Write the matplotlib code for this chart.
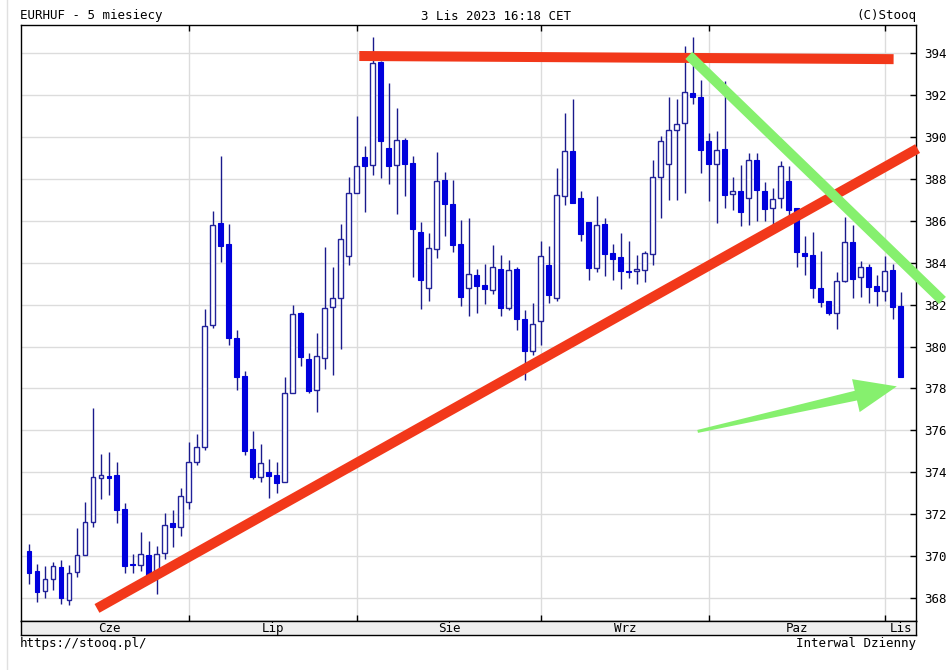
import matplotlib.pyplot as plt
from matplotlib.patches import Polygon

# daily candles, index 0 = 5 Jun 2023, index 109 = 3 Nov 2023
opens = [370.24, 369.30, 368.35, 368.90, 369.46, 367.91, 369.22, 370.04, 371.63, 373.73,
         373.81, 373.87, 372.23, 369.60, 369.57, 370.05, 369.15, 370.16, 371.57, 371.37,
         372.57, 374.50, 375.20, 381.05, 385.90, 384.90, 380.43, 378.58, 375.10, 373.79,
         374.03, 373.87, 373.55, 377.79, 381.58, 379.40, 377.94, 379.45, 381.90, 382.30,
         384.34, 387.35, 389.06, 388.66, 393.60, 389.48, 388.66, 389.87, 388.74, 385.47,
         382.81, 384.67, 387.94, 386.82, 384.91, 382.81, 383.42, 382.94, 382.70, 383.71,
         381.82, 383.71, 381.31, 379.77, 381.24, 383.90, 382.33, 387.19, 389.35, 387.11,
         385.94, 383.74, 385.83, 384.46, 384.26, 383.63, 383.62, 383.66, 384.43, 388.10,
         388.71, 390.32, 390.65, 392.12, 391.92, 389.83, 388.71, 389.42, 387.26, 387.43,
         387.10, 388.90, 387.43, 386.61, 387.10, 387.88, 386.60, 384.45, 384.35, 382.81,
         382.17, 381.61, 383.13, 384.99, 383.31, 383.82, 382.89, 382.65, 383.66, 381.93]
highs = [370.59, 369.60, 369.52, 369.72, 369.80, 369.57, 371.32, 372.57, 377.05, 374.89,
         374.97, 374.47, 372.54, 370.12, 371.16, 370.70, 370.49, 372.04, 372.20, 373.25,
         375.44, 375.83, 381.77, 386.45, 389.10, 385.84, 380.79, 378.82, 375.97, 375.37,
         374.63, 374.47, 378.53, 382.00, 381.66, 379.68, 380.66, 384.77, 383.82, 385.87,
         388.10, 390.99, 389.59, 394.77, 393.65, 392.56, 391.40, 389.95, 389.11, 385.94,
         385.43, 389.27, 388.31, 387.94, 386.02, 386.12, 383.71, 383.94, 384.87, 384.38,
         384.14, 383.82, 381.74, 382.06, 385.03, 384.79, 388.52, 391.15, 391.84, 387.43,
         385.94, 387.19, 386.12, 384.90, 385.43, 385.06, 384.35, 384.54, 388.90, 390.07,
         391.92, 391.84, 394.37, 394.78, 392.74, 390.21, 390.29, 392.69, 388.08, 388.69,
         389.23, 389.23, 387.87, 387.56, 388.85, 388.60, 386.63, 385.27, 385.46, 384.58,
         382.17, 383.58, 386.18, 385.79, 384.10, 383.95, 383.42, 384.30, 383.95, 382.59]
lows = [368.68, 367.80, 368.00, 368.36, 367.69, 367.66, 368.99, 370.04, 371.40, 372.70,
        372.93, 371.60, 369.18, 369.18, 369.29, 368.90, 368.20, 369.88, 370.43, 370.98,
        372.23, 374.37, 375.08, 380.90, 384.05, 380.08, 377.91, 374.82, 373.68, 373.52,
        372.78, 373.01, 373.52, 377.79, 379.05, 377.79, 376.87, 378.94, 378.62, 379.90,
        383.90, 387.35, 386.44, 388.20, 388.03, 387.75, 386.31, 387.19, 383.34, 381.79,
        382.17, 384.22, 385.27, 384.50, 381.95, 381.45, 381.58, 382.01, 382.49, 381.45,
        381.74, 380.81, 378.40, 379.60, 380.06, 382.06, 382.17, 386.74, 386.87, 385.06,
        383.18, 383.55, 383.37, 383.18, 382.75, 383.26, 382.97, 383.10, 383.90, 386.15,
        387.02, 387.02, 387.35, 391.60, 388.29, 386.97, 385.91, 386.61, 386.53, 385.75,
        385.79, 385.99, 385.99, 385.79, 386.60, 386.23, 383.82, 383.42, 382.30, 381.90,
        381.53, 380.86, 383.10, 382.33, 382.38, 382.06, 381.95, 382.17, 381.31, 378.54]
closes = [369.21, 368.27, 368.90, 369.52, 368.02, 369.18, 370.04, 371.63, 373.75, 373.86,
          373.73, 372.18, 369.54, 369.55, 370.12, 369.10, 370.08, 371.49, 371.37, 372.87,
          374.50, 375.20, 380.99, 385.80, 384.80, 380.39, 378.53, 375.02, 373.76, 374.42,
          373.84, 373.49, 377.79, 381.55, 379.48, 377.87, 379.55, 381.82, 382.30, 385.15,
          387.35, 388.62, 388.63, 393.55, 389.80, 388.63, 389.87, 388.71, 385.62, 383.18,
          384.71, 387.91, 386.79, 384.87, 382.35, 383.47, 382.91, 382.75, 383.78, 381.85,
          383.66, 381.31, 379.77, 381.07, 384.34, 382.46, 387.22, 389.35, 386.87, 385.39,
          383.74, 385.78, 384.43, 384.19, 383.63, 383.55, 383.71, 384.46, 388.10, 389.83,
          390.32, 390.62, 392.17, 391.92, 389.39, 388.71, 389.39, 387.22, 387.43, 386.40,
          388.90, 387.48, 386.56, 387.05, 388.60, 386.50, 384.50, 384.30, 382.81, 382.11,
          381.61, 383.13, 384.99, 383.23, 383.82, 382.83, 382.65, 383.63, 381.90, 378.54]

months = ["Cze", "Lip", "Sie", "Wrz", "Paz", "Lis"]
month_starts = [0, 20, 41, 64, 85, 107]
last_index = 111
y_ticks = list(range(368, 395, 2))

# hand-drawn trend lines (candle index, price)
resistance = ([41.3, 108.1], [393.87, 393.72])
support = ([8.5, 111.1], [367.50, 389.45])
down_trend = ([82.5, 114.2], [393.9, 382.2])
arrow_tail = (83.6, 375.95)
arrow_tip = (108.5, 378.1)

W, H = 949, 670
MONO = "DejaVu Sans Mono"
BLUE = "#0000dd"
WICK = "#1a1a8c"

fig = plt.figure(figsize=(W / 100, H / 100), dpi=100)
ax = fig.add_axes([21 / W, 49 / H, 895 / W, 596 / H])
band = fig.add_axes([21 / W, 35 / H, 895 / W, 14 / H])

x0, x1 = -1.0, 110.9
ax.set_xlim(x0, x1)
ax.set_ylim(366.9, 395.35)

# grid
for v in y_ticks:
    ax.axhline(v, color="#dcdcdc", lw=1.0, zorder=0)
for m in month_starts[1:]:
    ax.axvline(m, color="#dcdcdc", lw=1.0, zorder=0)

# candles
idx = list(range(len(opens)))
ax.vlines(idx, lows, highs, color=WICK, lw=1.0, zorder=2)
for i, o, c in zip(idx, opens, closes):
    bottom = min(o, c)
    height = max(abs(c - o), 0.06)
    if c < o:
        ax.bar(i, height, bottom=bottom, width=0.62, color=BLUE,
               edgecolor=BLUE, lw=0.8, zorder=3)
    else:
        ax.bar(i, height, bottom=bottom, width=0.62, color="white",
               edgecolor="#22229a", lw=1.0, zorder=3)

# overlays
ax.plot(*resistance, color="#f2381a", lw=7.2, solid_capstyle="butt",
        zorder=5, clip_on=False)
ax.plot(*support, color="#f2381a", lw=7.2, solid_capstyle="butt",
        zorder=5, clip_on=False)
ax.plot(*down_trend, color="#86f06e", lw=7.2, solid_capstyle="butt",
        zorder=6, clip_on=False)

# tapered arrow
tx, ty = arrow_tail
hx, hy = arrow_tip
dx, dy = hx - tx, hy - ty
px, py = 8.0, 21.1
L = ((dx * px) ** 2 + (dy * py) ** 2) ** 0.5
ux, uy = dx * px / L, dy * py / L
nx, ny = -uy, ux
head_len, head_w, shaft_w0, shaft_w1 = 42, 17, 1.5, 5


def pt(ax_px, ay_px):
    return (tx + ax_px / px, ty + ay_px / py)


base = L - head_len
poly = [
    pt(nx * shaft_w0, ny * shaft_w0),
    pt(ux * base + nx * shaft_w1, uy * base + ny * shaft_w1),
    pt(ux * base + nx * head_w, uy * base + ny * head_w),
    pt(ux * L, uy * L),
    pt(ux * base - nx * head_w, uy * base - ny * head_w),
    pt(ux * base - nx * shaft_w1, uy * base - ny * shaft_w1),
    pt(-nx * shaft_w0, -ny * shaft_w0),
]
ax.add_patch(Polygon(poly, closed=True, color="#86f06e", lw=0, zorder=6))

# axes styling
for s in ax.spines.values():
    s.set_color("black")
    s.set_linewidth(1.0)
ax.yaxis.tick_right()
ax.set_yticks(y_ticks)
ax.set_yticklabels([str(v) for v in y_ticks], fontfamily=MONO, fontsize=9)
ax.tick_params(axis="y", direction="in", length=4, width=1, pad=6, right=True, left=False)
ax.set_xticks(month_starts[1:])
ax.tick_params(axis="x", direction="in", length=4, width=1, top=True, bottom=True,
               labelbottom=False)

band.set_xlim(x0, x1)
band.set_ylim(0, 1)
band.set_facecolor("#eeeeee")
band.set_xticks([])
band.set_yticks([])
for s in band.spines.values():
    s.set_color("black")
    s.set_linewidth(1.0)
bounds = month_starts + [last_index]
for k, name in enumerate(months):
    band.text((bounds[k] + bounds[k + 1]) / 2, 0.45, name, ha="center", va="center",
              fontfamily=MONO, fontsize=9)

# header / footer
fig.text(20 / W, 1 - 16 / H, "EURHUF - 5 miesiecy", ha="left", va="center",
         fontfamily=MONO, fontsize=9)
fig.text(496 / W, 1 - 16 / H, "3 Lis 2023 16:18 CET", ha="center", va="center",
         fontfamily=MONO, fontsize=9)
fig.text(916 / W, 1 - 16 / H, "(C)Stooq", ha="right", va="center",
         fontfamily=MONO, fontsize=9)
fig.text(20 / W, 1 - 643 / H, "https://stooq.pl/", ha="left", va="center",
         fontfamily=MONO, fontsize=9)
fig.text(916 / W, 1 - 643 / H, "Interwal Dzienny", ha="right", va="center",
         fontfamily=MONO, fontsize=9)
fig.add_artist(plt.Line2D([6.5 / W, 6.5 / W], [0, 1], color="#e0e0e0", lw=1.0))

fig.savefig("out.png", dpi=100)
